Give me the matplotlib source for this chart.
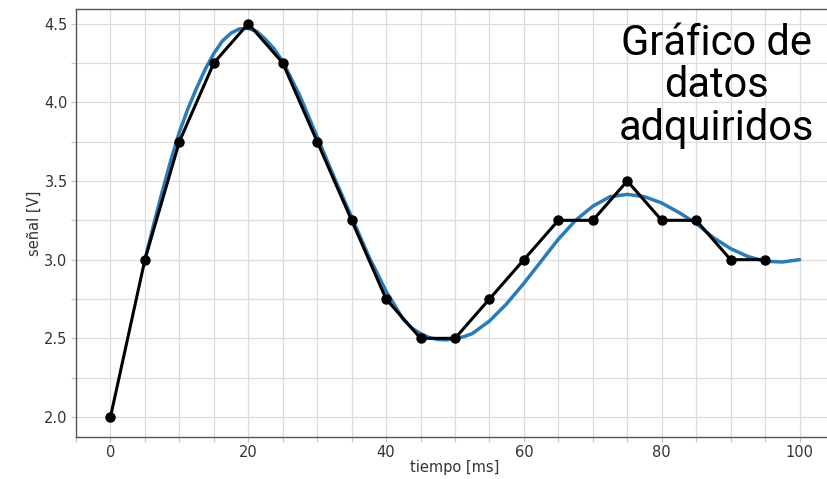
import matplotlib
matplotlib.use('Agg')
import matplotlib.pyplot as plt
from matplotlib.ticker import MultipleLocator

# datos adquiridos (negro)
t_datos = [0, 5, 10, 15, 20, 25, 30, 35, 40, 45, 50, 55, 60, 65, 70, 75, 80, 85, 90, 95]
v_datos = [2.0, 3.0, 3.75, 4.25, 4.5, 4.25, 3.75, 3.25, 2.75, 2.5, 2.5, 2.75, 3.0, 3.25,
           3.25, 3.5, 3.25, 3.25, 3.0, 3.0]

# curva azul
t_curva = [5, 6.25, 7.5, 8.75, 10, 11.25, 12.5, 13.75, 15, 16.25, 17.5, 18.75, 20, 21.25,
           22.5, 23.75, 25, 27.5, 30, 32.5, 35, 37.5, 40, 42.5, 43.75, 45, 46.25, 47.5,
           48.75, 50, 51.25, 52.5, 55, 57.5, 60, 62.5, 65, 67.5, 70, 72.5, 75, 77.5, 80,
           82.5, 85, 87.5, 90, 92.5, 95, 97.5, 100]
v_curva = [3.0, 3.22, 3.43, 3.63, 3.81, 3.96, 4.09, 4.21, 4.31, 4.39, 4.44, 4.467, 4.47,
           4.45, 4.40, 4.34, 4.26, 4.04, 3.78, 3.52, 3.27, 3.02, 2.80, 2.62, 2.565, 2.53,
           2.505, 2.493, 2.49, 2.50, 2.51, 2.53, 2.61, 2.72, 2.85, 2.99, 3.13, 3.25, 3.34,
           3.40, 3.415, 3.40, 3.36, 3.30, 3.23, 3.14, 3.07, 3.02, 2.99, 2.985, 3.00]

fig = plt.figure(figsize=(8.27, 4.79), dpi=100)
ax = fig.add_axes([76 / 827, 1 - 437 / 479, (834 - 76) / 827, (437 - 9) / 479])

ax.plot(t_curva, v_curva, color='#2b7bb9', linewidth=2.5, solid_capstyle='round',
        solid_joinstyle='round', zorder=3)
ax.plot(t_datos, v_datos, color='black', linewidth=2.2, marker='o', markersize=6.5, zorder=4)

ax.set_xlim(-5, 105)
ax.set_ylim(1.873, 4.593)
ax.xaxis.set_major_locator(MultipleLocator(20))
ax.xaxis.set_minor_locator(MultipleLocator(5))
ax.yaxis.set_major_locator(MultipleLocator(0.5))
ax.yaxis.set_minor_locator(MultipleLocator(0.25))
ax.grid(which='both', color='#dcdcdc', linewidth=0.9)
ax.set_axisbelow(True)
ax.tick_params(which='both', color='#c8c8c8', length=3.5, width=0.9, labelsize=10.5,
               labelcolor='#333333', pad=2.5)
for s in ax.spines.values():
    s.set_color('#555555')
    s.set_linewidth(1.0)

ax.set_xlabel('tiempo [ms]', fontsize=10.5, color='#333333', labelpad=0)
ax.set_ylabel('señal [V]', fontsize=10.5, color='#333333', labelpad=2)

fig.text(716 / 827, 1 - 23 / 479, 'Gráfico de\ndatos\nadquiridos', ha='center', va='top',
         fontsize=30, linespacing=1.04,
         family=['Liberation Sans Narrow', 'Roboto', 'DejaVu Sans'])

fig.savefig('out.png', dpi=100)
